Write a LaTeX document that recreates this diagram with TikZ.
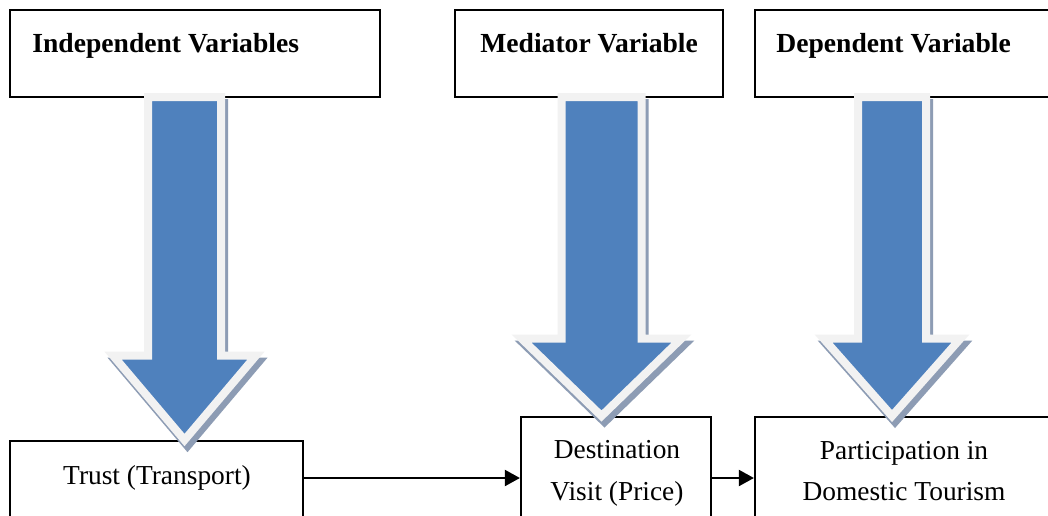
\documentclass[tikz,border=0pt]{standalone}
\usepackage{fontspec}
\setmainfont{Liberation Serif}
\usetikzlibrary{arrows.meta}
\definecolor{arrowblue}{HTML}{4F81BD}
\definecolor{arrowrim}{HTML}{F2F2F2}
\definecolor{arrowshade}{HTML}{8D9CB4}
% #1 centre x, #2 top y, #3 shaft half width, #4 head base y, #5 head half width, #6 tip y
\newcommand\myblockarrow[6]{%
  \filldraw[fill=arrowshade,draw=arrowshade,line width=4pt,miter limit=3,shift={(3,6)}]
    ({#1-#3},#2) -- ({#1+#3},#2) -- ({#1+#3},#4) -- ({#1+#5},#4) -- (#1,#6)
    -- ({#1-#5},#4) -- ({#1-#3},#4) -- cycle;
  \filldraw[fill=arrowblue,draw=arrowrim,line width=4pt,miter limit=3]
    ({#1-#3},#2) -- ({#1+#3},#2) -- ({#1+#3},#4) -- ({#1+#5},#4) -- (#1,#6)
    -- ({#1-#5},#4) -- ({#1-#3},#4) -- cycle;
}
\tikzset{
  varbox/.style={draw=black,line width=1.1pt,rectangle,inner sep=0pt},
  conn/.style={line width=1pt,-{Triangle[length=7.5pt,width=8pt]}},
  plain/.style={font=\fontsize{13.7}{21}\selectfont,inner sep=0pt},
  heading/.style={font=\fontsize{13.8}{21}\selectfont\bfseries,inner sep=0pt}
}
\begin{document}
\begin{tikzpicture}[x=0.5pt,y=-0.5pt]
\useasboundingbox (0,0) rectangle (1048,515);
\fill[white] (0,0) rectangle (1048,515);
\clip (0,0) rectangle (1048,515);
% heading boxes
\node[varbox,minimum width=185pt,minimum height=43.5pt] (indep) at (195,53.5) {};
\node[varbox,minimum width=134pt,minimum height=43.5pt] (medi) at (589,53.5) {};
\node[varbox,minimum width=152.5pt,minimum height=43.5pt] (depv) at (907.5,53.5) {};
% variable boxes
\node[varbox,minimum width=146.5pt,minimum height=40pt] (trust) at (156.5,481) {};
\node[varbox,minimum width=95pt,minimum height=61pt] (dest) at (616,478) {};
\node[varbox,minimum width=152.5pt,minimum height=61pt] (part) at (907.5,478) {};
% connectors
\draw[conn] (trust.east |- dest.west) -- (dest.west);
\draw[conn] (dest.east) -- (part.west);
% block arrows
\myblockarrow{184.5}{97}{36.5}{355.5}{71.5}{440}
\myblockarrow{601.5}{97}{40}{338.5}{80}{416}
\myblockarrow{892}{97}{34}{338.5}{68.5}{416}
% texts
\node[heading,anchor=base west] (tindep) at (32,52) {Independent Variables};
\node[heading,anchor=base west] (tmedi) at (480,52) {Mediator Variable};
\node[heading,anchor=base west] (tdepv) at (776,52) {Dependent Variable};
\node[plain,anchor=base] (ttrust) at (157,484) {Trust (Transport)};
\node[plain,anchor=base] (tdest1) at (617,458) {Destination};
\node[plain,anchor=base] (tdest2) at (617,500) {Visit (Price)};
\node[plain,anchor=base] (tpart1) at (904,459) {Participation in};
\node[plain,anchor=base] (tpart2) at (904,500) {Domestic Tourism};
\end{tikzpicture}
\end{document}
